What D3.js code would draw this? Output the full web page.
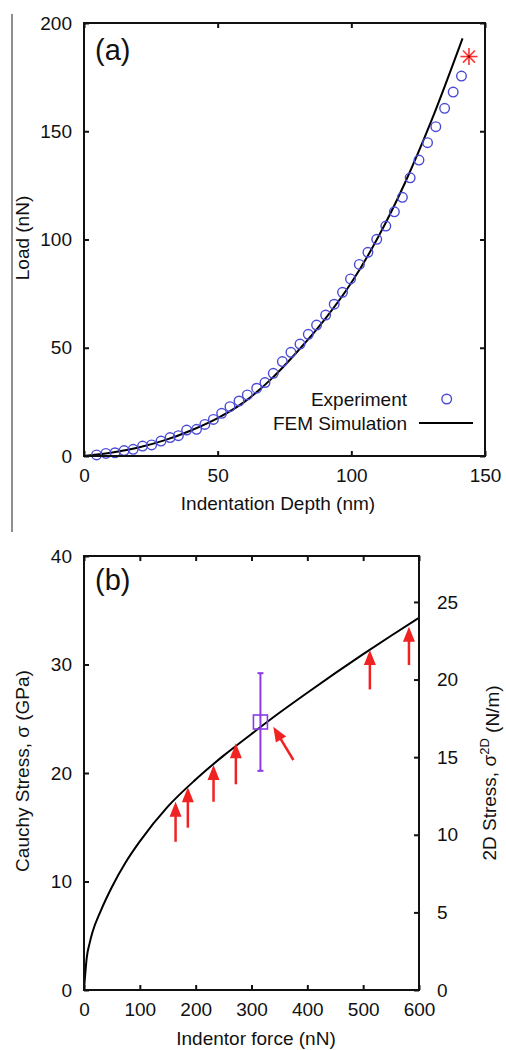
<!DOCTYPE html>
<html>
<head>
<meta charset="utf-8">
<script src="https://cdn.jsdelivr.net/npm/d3@7"></script>
<style>
  body { margin: 0; background: #fff; }
  text { font-family: "Liberation Sans", Arial, sans-serif; fill: #111; }
</style>
</head>
<body>
<svg id="chart" width="506" height="1050"></svg>
<script>
// ---- panel (a): load vs indentation depth ----
const expDepth = [4.7, 8.2, 11.6, 15.0, 18.4, 21.9, 25.3, 28.8, 32.2, 35.3, 38.4, 42.1, 45.2, 48.4, 51.5,
                  54.6, 58.0, 61.1, 64.6, 67.7, 70.8, 74.2, 77.4, 80.8, 83.9, 87.0, 90.4, 93.6, 96.7, 99.7,
                  103.0, 106.2, 109.5, 112.9, 116.1, 119.1, 122.0, 125.3, 128.5, 131.6, 134.9, 138.1, 141.2]
const expLoad = [0.5, 1.2, 1.5, 2.5, 3.1, 4.6, 5.1, 6.9, 8.5, 9.4, 12.0, 12.3, 14.6, 16.9, 19.7,
                 22.8, 25.4, 28.2, 31.3, 33.9, 38.2, 43.6, 47.9, 51.7, 56.2, 60.5, 65.1, 70.1, 75.6, 81.8,
                 88.5, 94.1, 100.1, 106.2, 112.8, 119.5, 128.5, 136.7, 144.7, 152.1, 160.6, 168.1, 175.5]
const femDepth = [0, 10, 20, 30, 40, 50, 60, 70, 80, 90, 100, 110, 120, 130, 141.6]
const femLoad = [0, 1.5, 3.8, 7.2, 11.8, 17.5, 25.0, 35.5, 48.5, 63.0, 80.0, 101, 126, 155, 192.9]
const breakDepth = 144
const breakLoad = 184.5
const depthTicks = [0, 50, 100, 150]
const loadTicks = [0, 50, 100, 150, 200]
const legendNames = ["Experiment", "FEM Simulation"]

// ---- panel (b): stress vs indentor force ----
const forceVals = [0, 5, 10, 15, 30, 50, 75, 100, 150, 200, 250, 300, 350, 400, 450, 500, 550, 600]
const stressVals = [0, 3.0, 4.3, 5.3, 7.3, 9.5, 11.8, 13.7, 16.9, 19.4, 21.6, 23.6, 25.55, 27.4, 29.2, 30.95, 32.65, 34.3]
const forceTicks = [0, 100, 200, 300, 400, 500, 600]
const cauchyTicks = [0, 10, 20, 30, 40]
const stress2dTicks = [0, 5, 10, 15, 20, 25]
const stress2dMax = 27.96   // 40 GPa on the left axis

// arrows: tail force/stress -> tip force/stress
const arrowTailF = [164, 186, 232, 272, 375, 512, 582]
const arrowTailS = [13.66, 14.96, 17.35, 18.96, 21.2, 27.7, 29.95]
const arrowTipF = [164, 186, 232, 272, 339, 512, 582]
const arrowTipS = [17.35, 18.68, 20.74, 22.74, 24.27, 31.34, 33.49]

// error bar point
const errForce = 316
const errMean = 24.7
const errLow = 20.2
const errHigh = 29.2

const svg = d3.select("#chart")
const fontSize = 19

// thin border line on the left of the top panel
svg.append("line")
    .attr("x1", 12).attr("x2", 12).attr("y1", 14).attr("y2", 532)
    .attr("stroke", "#444").attr("stroke-width", 1.2)

// helper: draw a mirrored-tick frame
function drawFrame(g, x, y, xTicks, yTicks, yRight, yRightTicks) {
    const fmt = d3.format("d")
    g.append("g").attr("transform", `translate(0,${y.range()[0]})`)
        .call(d3.axisBottom(x).tickValues(xTicks).tickSize(-5).tickPadding(13).tickFormat(fmt))
    g.append("g").attr("transform", `translate(0,${y.range()[1]})`)
        .call(d3.axisTop(x).tickValues(xTicks).tickSize(-5).tickFormat(""))
    g.append("g").attr("transform", `translate(${x.range()[0]},0)`)
        .call(d3.axisLeft(y).tickValues(yTicks).tickSize(-5).tickPadding(12).tickFormat(fmt))
    if (yRight) {
        g.append("g").attr("transform", `translate(${x.range()[1]},0)`)
            .call(d3.axisRight(yRight).tickValues(yRightTicks).tickSize(-5).tickPadding(18).tickFormat(fmt))
    } else {
        g.append("g").attr("transform", `translate(${x.range()[1]},0)`)
            .call(d3.axisRight(y).tickValues(yTicks).tickSize(-5).tickFormat(""))
    }
    g.selectAll(".domain").remove()
    g.selectAll(".tick line").attr("stroke", "#111").attr("stroke-width", 2)
    g.selectAll(".tick text").attr("font-size", fontSize).attr("fill", "#111")
        .style("font-family", '"Liberation Sans", Arial, sans-serif')

    g.append("rect")
        .attr("x", x.range()[0]).attr("y", y.range()[1])
        .attr("width", x.range()[1] - x.range()[0])
        .attr("height", y.range()[0] - y.range()[1])
        .attr("fill", "none").attr("stroke", "#111").attr("stroke-width", 2)
}

// ================= panel (a) =================
const ga = svg.append("g")
const xA = d3.scaleLinear().domain([0, 150]).range([84, 485])
const yA = d3.scaleLinear().domain([0, 200]).range([456, 23])

ga.append("path")
    .datum(femDepth.map((d, i) => [d, femLoad[i]]))
    .attr("d", d3.line().x(d => xA(d[0])).y(d => yA(d[1])).curve(d3.curveMonotoneX))
    .attr("fill", "none").attr("stroke", "#000").attr("stroke-width", 2)

ga.selectAll("circle.exp")
    .data(expDepth.map((d, i) => [d, expLoad[i]]))
    .enter().append("circle")
    .attr("class", "exp")
    .attr("cx", d => xA(d[0])).attr("cy", d => yA(d[1]))
    .attr("r", 4.8)
    .attr("fill", "none").attr("stroke", "#4a4ad6").attr("stroke-width", 1.4)

// red asterisk = break point
const star = ga.append("g").attr("transform", `translate(${xA(breakDepth)},${yA(breakLoad)})`)
;[0, 45, 90, 135].forEach(a => {
    star.append("line")
        .attr("x1", -8.5).attr("x2", 8.5).attr("y1", 0).attr("y2", 0)
        .attr("transform", `rotate(${a})`)
        .attr("stroke", "#ff3333").attr("stroke-width", 1.6)
})
star.append("circle").attr("r", 1.4).attr("fill", "#a00000")

drawFrame(ga, xA, yA, depthTicks, loadTicks)

ga.append("text").attr("x", 95).attr("y", 60).attr("font-size", 29).text("(a)")

// legend
ga.append("text").attr("x", 407).attr("y", 399).attr("dy", "0.35em")
    .attr("text-anchor", "end").attr("font-size", fontSize).text(legendNames[0])
ga.append("circle").attr("cx", 446.7).attr("cy", 399).attr("r", 4.8)
    .attr("fill", "none").attr("stroke", "#4a4ad6").attr("stroke-width", 1.4)
ga.append("text").attr("x", 407).attr("y", 423).attr("dy", "0.35em")
    .attr("text-anchor", "end").attr("font-size", fontSize).text(legendNames[1])
ga.append("line").attr("x1", 419).attr("x2", 473).attr("y1", 423).attr("y2", 423)
    .attr("stroke", "#000").attr("stroke-width", 2)

// axis titles
ga.append("text").attr("x", 278).attr("y", 503).attr("dy", "0.35em")
    .attr("text-anchor", "middle").attr("font-size", fontSize).text("Indentation Depth (nm)")
ga.append("text").attr("transform", "translate(22,238) rotate(-90)").attr("dy", "0.35em")
    .attr("text-anchor", "middle").attr("font-size", fontSize).text("Load (nN)")

// ================= panel (b) =================
const gb = svg.append("g")
const xB = d3.scaleLinear().domain([0, 600]).range([84, 419])
const yB = d3.scaleLinear().domain([0, 40]).range([990, 556])
const yB2 = d3.scaleLinear().domain([0, stress2dMax]).range([990, 556])

gb.append("path")
    .datum(forceVals.map((d, i) => [d, stressVals[i]]))
    .attr("d", d3.line().x(d => xB(d[0])).y(d => yB(d[1])).curve(d3.curveMonotoneX))
    .attr("fill", "none").attr("stroke", "#000").attr("stroke-width", 2)

// red arrows
const arrowColor = "#f02222"
arrowTipF.forEach((f, i) => {
    const x1 = xB(arrowTailF[i]), y1 = yB(arrowTailS[i])
    const x2 = xB(f), y2 = yB(arrowTipS[i])
    const len = Math.hypot(x2 - x1, y2 - y1)
    const ux = (x2 - x1) / len, uy = (y2 - y1) / len
    const headL = 15, headW = 6
    const bx = x2 - ux * headL, by = y2 - uy * headL
    gb.append("line")
        .attr("x1", x1).attr("y1", y1).attr("x2", bx + ux * 2).attr("y2", by + uy * 2)
        .attr("stroke", arrowColor).attr("stroke-width", 2.5)
    gb.append("path")
        .attr("d", `M${x2},${y2}L${bx - uy * headW},${by + ux * headW}L${bx + uy * headW},${by - ux * headW}Z`)
        .attr("fill", arrowColor)
})

// error bar with open square
const errColor = "#8a3be6"
const ex = xB(errForce)
gb.append("line").attr("x1", ex).attr("x2", ex).attr("y1", yB(errLow)).attr("y2", yB(errHigh))
    .attr("stroke", errColor).attr("stroke-width", 2)
;[errLow, errHigh].forEach(v => {
    gb.append("line").attr("x1", ex - 3).attr("x2", ex + 3).attr("y1", yB(v)).attr("y2", yB(v))
        .attr("stroke", errColor).attr("stroke-width", 2)
})
gb.append("rect").attr("x", ex - 7).attr("y", yB(errMean) - 7).attr("width", 14).attr("height", 14)
    .attr("fill", "none").attr("stroke", errColor).attr("stroke-width", 1.6)

drawFrame(gb, xB, yB, forceTicks, cauchyTicks, yB2, stress2dTicks)

gb.append("text").attr("x", 95).attr("y", 590).attr("font-size", 29).text("(b)")

gb.append("text").attr("x", 256).attr("y", 1038).attr("dy", "0.35em")
    .attr("text-anchor", "middle").attr("font-size", fontSize).text("Indentor force (nN)")
gb.append("text").attr("transform", "translate(22,771) rotate(-90)").attr("dy", "0.35em")
    .attr("text-anchor", "middle").attr("font-size", fontSize).text("Cauchy Stress, σ (GPa)")

const rl = gb.append("text").attr("transform", "translate(489,773) rotate(-90)").attr("dy", "0.35em")
    .attr("text-anchor", "middle").attr("font-size", fontSize)
rl.append("tspan").text("2D Stress, σ")
rl.append("tspan").attr("dy", "-0.55em").attr("font-size", 13).text("2D")
rl.append("tspan").attr("dy", "0.55em").text(" (N/m)")
</script>
</body>
</html>
